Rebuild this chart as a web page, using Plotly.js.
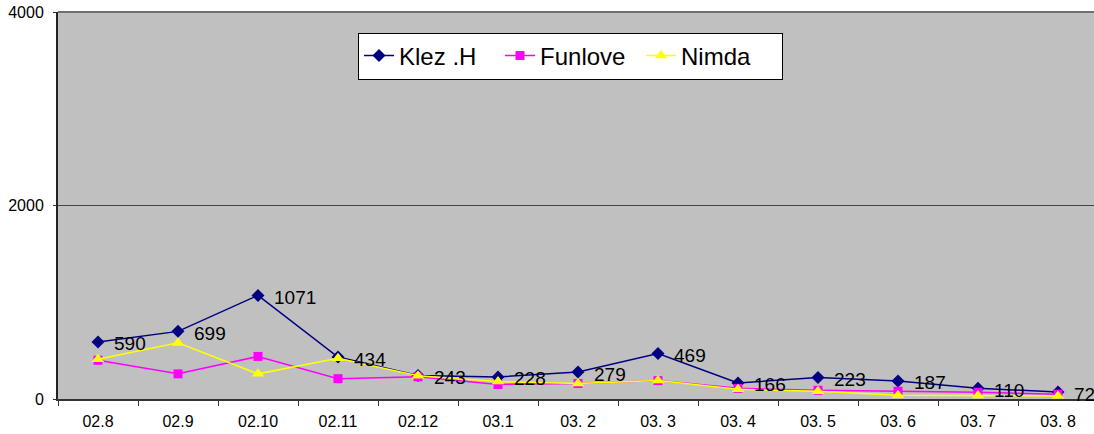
<!DOCTYPE html>
<html>
<head>
<meta charset="utf-8">
<script src="https://cdn.plot.ly/plotly-3.0.1.min.js"></script>
<style>
html,body{margin:0;padding:0;background:#fff;}
#chart{width:1094px;height:434px;}
</style>
</head>
<body>
<div id="chart"></div>
<script>
const categories = ["02.8","02.9","02.10","02.11","02.12","03.1","03. 2","03. 3","03. 4","03. 5","03. 6","03. 7","03. 8"];
const klez    = [590, 699, 1071, 434, 243, 228, 279, 469, 166, 223, 187, 110, 72];
const funlove = [400, 260, 440, 210, 230, 150, 160, 190, 110, 90, 80, 70, 50];
const nimda   = [410, 580, 260, 420, 240, 180, 160, 190, 100, 80, 40, 35, 30];
const yTicks  = [0, 2000, 4000];

const FONT = "Arial, 'Liberation Sans', sans-serif";

const traces = [
  {x: categories, y: klez, name: "Klez .H", type: "scatter", mode: "lines+markers",
   line: {color: "#000080", width: 1.5},
   marker: {symbol: "diamond", size: 10, color: "#000080"}},
  {x: categories, y: funlove, name: "Funlove", type: "scatter", mode: "lines+markers",
   line: {color: "#FF00FF", width: 1.5},
   marker: {symbol: "square", size: 9, color: "#FF00FF"}},
  {x: categories, y: nimda, name: "Nimda", type: "scatter", mode: "lines+markers",
   line: {color: "#FFFF00", width: 1.5},
   marker: {symbol: "triangle-up", size: 11, color: "#FFFF00"}}
];

// category axis: annotation x given as the category index
const annotations = klez.map((v, i) => ({
  x: i, y: v, xref: "x", yref: "y",
  text: String(v), showarrow: false,
  xanchor: "left", yanchor: "middle",
  xshift: 14, yshift: -2,
  font: {family: FONT, size: 19, color: "#000"}
}));

const layout = {
  width: 1094, height: 434,
  margin: {l: 58, r: 0, t: 12, b: 35, pad: 0},
  paper_bgcolor: "#ffffff",
  plot_bgcolor: "#C0C0C0",
  showlegend: true,
  legend: {
    orientation: "h", x: 0.2896, y: 0.947, xanchor: "left", yanchor: "top",
    bgcolor: "#ffffff", bordercolor: "#000000", borderwidth: 1,
    font: {family: FONT, size: 24, color: "#000"},
    itemwidth: 30, tracegroupgap: 0,
    entrywidth: 96, entrywidthmode: "pixels"
  },
  xaxis: {
    type: "category",
    range: [-0.5, 12.45],
    tickson: "boundaries",
    ticks: "outside", ticklen: 5, tickcolor: "#333", tickwidth: 1,
    showline: true, linecolor: "#333", linewidth: 2,
    showgrid: false, zeroline: false,
    tickfont: {family: FONT, size: 16, color: "#000"},
    ticklabelstandoff: 7,
    fixedrange: true
  },
  yaxis: {
    range: [0, 4000],
    tickvals: yTicks,
    ticktext: yTicks.map(String),
    ticks: "outside", ticklen: 3, tickcolor: "#333",
    showline: true, linecolor: "#222", linewidth: 2,
    showgrid: true, gridcolor: "#444", gridwidth: 1,
    zeroline: false,
    tickfont: {family: FONT, size: 16, color: "#000"},
    ticklabelstandoff: 6,
    fixedrange: true
  },
  annotations: annotations,
  shapes: [
    {type: "line", xref: "paper", yref: "paper", x0: 0, x1: 1, y0: 1, y1: 1,
     line: {color: "#707070", width: 2}}
  ]
};

Plotly.newPlot("chart", traces, layout, {displayModeBar: false, staticPlot: true});
</script>
</body>
</html>
